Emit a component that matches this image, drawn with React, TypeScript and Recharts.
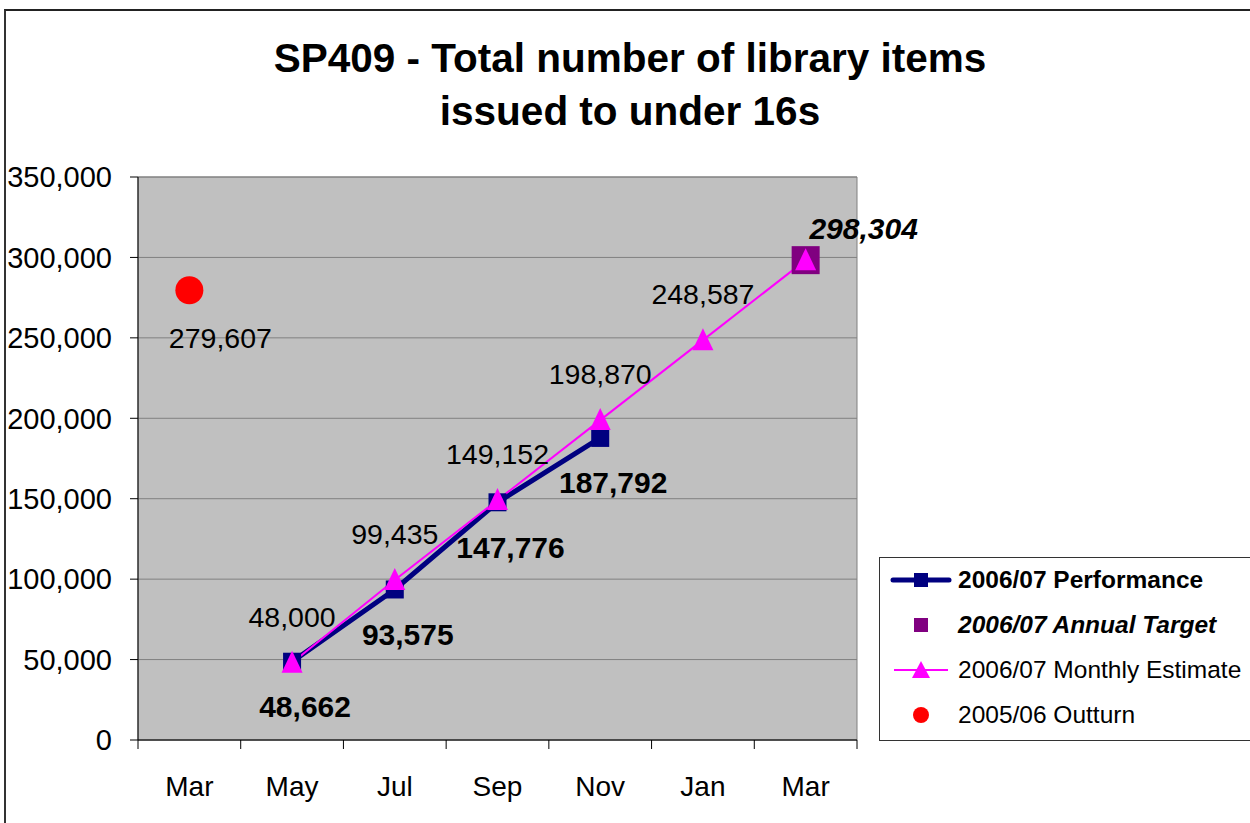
import { LineChart, Line, XAxis, YAxis, CartesianGrid, ReferenceArea, LabelList } from 'recharts'

const months = ['Mar', 'May', 'Jul', 'Sep', 'Nov', 'Jan', 'Mar']
const performance = [null, 48662, 93575, 147776, 187792, null, null]
const annualTarget = [null, null, null, null, null, null, 298304]
const monthlyEstimate = [null, 48000, 99435, 149152, 198870, 248587, 298304]
const outturn = [279607, null, null, null, null, null, null]
const yTicks = [0, 50000, 100000, 150000, 200000, 250000, 300000, 350000]

const FONT = 'Arial, "Liberation Sans", sans-serif'
const fmt = (v: number) => v.toLocaleString('en-US')

const data = months.map((m, i) => ({
  x: i,
  month: m,
  perf: performance[i],
  target: annualTarget[i],
  est: monthlyEstimate[i],
  out: outturn[i],
}))

// ticks at category boundaries (tick marks) and centres (labels)
const xTicks: number[] = []
months.forEach((_, i) => { xTicks.push(i - 0.5); xTicks.push(i) })
xTicks.push(months.length - 0.5)

const XTick = (p: any) => {
  const v = p.payload.value
  if (Number.isInteger(v)) {
    return (
      <text x={p.x} y={p.y + 46} textAnchor="middle" dominantBaseline="central"
        fontFamily={FONT} fontSize={28} fill="#000">{months[v]}</text>
    )
  }
  return <line x1={p.x} x2={p.x} y1={p.y} y2={p.y + 9} stroke="#000" strokeWidth={1} />
}

const sq = (fill: string, size: number) => (p: any) => {
  if (p.cy == null || p.value == null || isNaN(p.cy)) return <g key={p.key ?? p.index} />
  return <rect key={p.key ?? p.index} x={p.cx - size / 2} y={p.cy - size / 2} width={size} height={size} fill={fill} />
}
const tri = (p: any) => {
  if (p.cy == null || p.value == null || isNaN(p.cy)) return <g key={p.key ?? p.index} />
  const s = 21
  return <polygon key={p.key ?? p.index} fill="#FF00FF"
    points={`${p.cx},${p.cy - 12} ${p.cx - s / 2},${p.cy + 10} ${p.cx + s / 2},${p.cy + 10}`} />
}
const circ = (p: any) => {
  if (p.cy == null || p.value == null || isNaN(p.cy)) return <g key={p.key ?? p.index} />
  return <circle key={p.key ?? p.index} cx={p.cx} cy={p.cy} r={14} fill="#FF0000" />
}

const mkLabel = (dx: number, dy: number, weight: string, style: string, skipLast = false) => (p: any) => {
  if (p.value == null) return null
  if (skipLast && p.index === months.length - 1) return null
  return (
    <text x={p.x + dx} y={p.y + dy} textAnchor="middle" dominantBaseline="central"
      fontFamily={FONT} fontSize={weight === 'bold' ? 30 : 28.5} fontWeight={weight} fontStyle={style} fill="#000">
      {fmt(p.value)}
    </text>
  )
}

const legendRows = [
  { name: '2006/07 Performance', weight: 'bold', style: 'normal' },
  { name: '2006/07 Annual Target', weight: 'bold', style: 'italic' },
  { name: '2006/07 Monthly Estimate', weight: 'normal', style: 'normal' },
  { name: '2005/06 Outturn', weight: 'normal', style: 'normal' },
]

const LegendSymbol = ({ i }: { i: number }) => (
  <svg width={62} height={24} style={{ display: 'block' }}>
    {i === 0 && <>
      <line x1={3} x2={59} y1={12} y2={12} stroke="#000080" strokeWidth={5} strokeLinecap="round" />
      <rect x={24} y={5} width={14} height={14} fill="#000080" />
    </>}
    {i === 1 && <rect x={24} y={5} width={14} height={14} fill="#800080" />}
    {i === 2 && <>
      <line x1={4} x2={58} y1={12} y2={12} stroke="#FF00FF" strokeWidth={2} />
      <polygon points="31,3 22,20 40,20" fill="#FF00FF" />
    </>}
    {i === 3 && <circle cx={31} cy={12} r={8} fill="#FF0000" />}
  </svg>
)

export default function App() {
  return (
    <div style={{ position: 'absolute', left: 0, top: 0, width: 1250, height: 823, overflow: 'hidden', background: '#fff' }}>
      <div style={{ position: 'absolute', left: 4, top: 9, width: 1400, height: 1000, borderTop: '2px solid #222', borderLeft: '2px solid #333' }} />
      <div style={{ position: 'absolute', left: 0, top: 32, width: 1260, textAlign: 'center', fontFamily: FONT, fontWeight: 'bold', fontSize: 40.5, lineHeight: '53px', color: '#000' }}>
        SP409 - Total number of library items<br />issued to under 16s
      </div>
      <div style={{ position: 'absolute', left: 0, top: 0 }}>
        <LineChart width={1250} height={823} data={data} margin={{ top: 177, right: 393, bottom: 23, left: 0 }}>
          <CartesianGrid vertical={false} stroke="#808080" fill="#C0C0C0" fillOpacity={1} />
          <ReferenceArea y1={0} y2={350000} x1={-0.5} x2={6.5} fill="#C0C0C0" fillOpacity={0} stroke="#808080" strokeWidth={1} />
          <XAxis dataKey="x" type="number" domain={[-0.5, 6.5]} ticks={xTicks} interval={0}
            height={60} tickLine={false} tickSize={0} tickMargin={0} tick={<XTick />} axisLine={{ stroke: '#000' }} />
          <YAxis type="number" domain={[0, 350000]} ticks={yTicks} interval={0} width={138}
            tickFormatter={fmt} tickSize={8} tickMargin={18} axisLine={{ stroke: '#000' }} tickLine={{ stroke: '#000' }}
            tick={{ fontFamily: FONT, fontSize: 29, fill: '#000' }} />
          <Line dataKey="perf" stroke="#000080" strokeWidth={5} dot={sq('#000080', 18)} activeDot={false} isAnimationActive={false}>
            <LabelList dataKey="perf" content={mkLabel(13, 45, 'bold', 'normal')} />
          </Line>
          <Line dataKey="target" stroke="none" dot={sq('#800080', 28)} activeDot={false} isAnimationActive={false}>
            <LabelList dataKey="target" content={mkLabel(58, -32, 'bold', 'italic')} />
          </Line>
          <Line dataKey="est" stroke="#FF00FF" strokeWidth={2} dot={tri} activeDot={false} isAnimationActive={false}>
            <LabelList dataKey="est" content={mkLabel(0, -46, 'normal', 'normal', true)} />
          </Line>
          <Line dataKey="out" stroke="none" dot={circ} activeDot={false} isAnimationActive={false}>
            <LabelList dataKey="out" content={mkLabel(31, 48, 'normal', 'normal')} />
          </Line>
        </LineChart>
      </div>
      <div style={{ position: 'absolute', left: 879, top: 557, width: 420, height: 182, border: '1px solid #333', background: '#fff', fontFamily: FONT, fontSize: 24.5, color: '#000' }}>
        {legendRows.map((r, i) => (
          <div key={r.name} style={{ position: 'absolute', left: 10, top: 10 + i * 45, height: 24, display: 'flex', alignItems: 'center' }}>
            <LegendSymbol i={i} />
            <span style={{ marginLeft: 6, fontWeight: r.weight as any, fontStyle: r.style, whiteSpace: 'nowrap' }}>{r.name}</span>
          </div>
        ))}
      </div>
    </div>
  )
}
